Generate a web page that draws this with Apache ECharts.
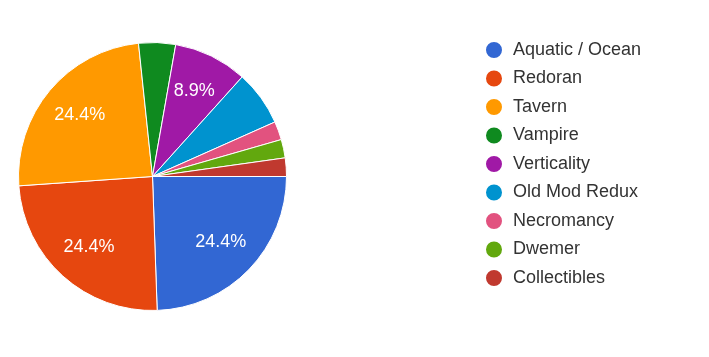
<!DOCTYPE html>
<html><head><meta charset="utf-8">
<script src="https://cdn.jsdelivr.net/npm/echarts@6/dist/echarts.min.js"></script>
<style>html,body{margin:0;padding:0;background:#fff}#c{width:709px;height:357px}</style>
</head><body><div id="c"></div>
<script>
const categories = ["Aquatic / Ocean","Redoran","Tavern","Vampire","Verticality","Old Mod Redux","Necromancy","Dwemer","Collectibles"];
const counts = [11,11,11,2,4,3,1,1,1];
const colors = ["#3267d3","#e6470f","#ff9900","#0f8a1f","#a019a6","#0093cf","#e2527f","#62a80e","#c0392f"];
const total = counts.reduce((a,b)=>a+b,0);
const data = categories.map((n,i)=>({name:n,value:counts[i]}));
const chart = echarts.init(document.getElementById('c'));
const font = "Liberation Sans, Arial, sans-serif";
chart.setOption({
  animation:false,
  color: colors,
  legend:{
    orient:'vertical', left:479, top:35,
    icon:'circle', itemWidth:18, itemHeight:18, itemGap:8.5,
    textStyle:{fontFamily:font, fontSize:18, color:'#333', padding:[0,0,0,5]},
    data: categories
  },
  series:[
    {type:'pie', center:[152.5,176.5], radius:[0,134], startAngle:0, clockwise:true,
     data:data, label:{show:false}, labelLine:{show:false},
     itemStyle:{borderColor:'#fff', borderWidth:1}, silent:true},
    {type:'pie', center:[152.5,176.5], radius:[50,134], startAngle:0, clockwise:true,
     data:data, silent:true, labelLine:{show:false},
     itemStyle:{color:'rgba(0,0,0,0)', borderWidth:0},
     label:{show:true, position:'inside', color:'#fff', fontFamily:font, fontSize:18,
       formatter:p=>{const pct=p.value/total*100; return pct>=8 ? pct.toFixed(1)+'%' : '';}}}
  ]
});
</script></body></html>
